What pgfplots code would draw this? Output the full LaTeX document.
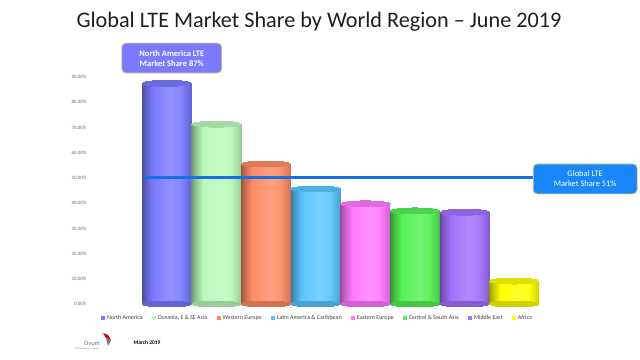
\documentclass[border=0pt]{standalone}
\usepackage{fontspec}
\setmainfont{Carlito}
\usepackage{pgfplots}
\pgfplotsset{compat=1.18}
\definecolor{cNA}{RGB}{122,122,255}
\definecolor{cOC}{RGB}{185,248,185}
\definecolor{cWE}{RGB}{255,140,100}
\definecolor{cLA}{RGB}{90,198,255}
\definecolor{cEE}{RGB}{255,120,255}
\definecolor{cCS}{RGB}{85,240,85}
\definecolor{cME}{RGB}{162,112,252}
\definecolor{cAF}{RGB}{255,255,0}
\definecolor{lineblue}{RGB}{22,110,235}
\definecolor{boxblue}{RGB}{25,135,250}
\definecolor{boxedge}{RGB}{215,215,120}
\newcommand{\mkshade}[1]{%
  \pgfdeclarehorizontalshading{cyl#1}{100bp}{%
    color(0bp)=(#1!62!black); color(25bp)=(#1!62!black);
    color(29bp)=(#1!78!black); color(36bp)=(#1);
    color(54bp)=(#1!82!white); color(64bp)=(#1!92!white);
    color(72bp)=(#1!88!black); color(75bp)=(#1!80!black);
    color(100bp)=(#1!80!black)}}
\mkshade{cNA}\mkshade{cOC}\mkshade{cWE}\mkshade{cLA}
\mkshade{cEE}\mkshade{cCS}\mkshade{cME}\mkshade{cAF}
\pgfplotsset{
  cyl/.style={ybar, bar width=1, bar shift=0pt, draw=none, fill=#1,
    shading=cyl#1,
    legend image code/.code={\pgfsetfillcolor{#1}\pgfpathrectangle{\pgfpoint{0bp}{-2bp}}{\pgfpoint{4bp}{4bp}}\pgfusepath{fill}}},
}
\newcommand{\cylbar}[4]{%
  \addplot[forget plot, only marks, mark=*, mark size=24.8bp,
    mark options={yscale=0.12, fill=#3!82!black, draw=#3!82!black, line width=0pt}] coordinates {(#1,0)};
  \addplot[cyl=#3] coordinates {(#1,#2)};
  \addlegendentry{#4}
  \addplot[forget plot, only marks, mark=*, mark size=24.8bp,
    mark options={yscale=0.12, fill=#3!88!black, draw=#3!88!black, line width=0pt}] coordinates {(#1,#2)};
}
\begin{document}
\begin{tikzpicture}[x=1bp,y=1bp]
\path[use as bounding box] (0bp,0bp) rectangle (640bp,360bp);
\node[font=\fontsize{22.3}{26}\selectfont, text=black!88] at (319bp,338bp) {Global LTE Market Share by World Region – June 2019};
\begin{axis}[at={(142bp,56bp)}, anchor=south west, scale only axis,
  width=397bp, height=227bp, xmin=-0.5, xmax=7.5, ymin=0, ymax=90,
  clip=false, axis line style={draw=none}, major tick length=0pt,
  xtick=\empty, ytick={0,10,...,90},
  /pgf/number format/assume math mode=true,
  yticklabel={\pgfmathprintnumber[fixed,fixed zerofill,precision=2]{\tick}\%},
  yticklabel style={font=\fontsize{5}{6}\selectfont, text=black!60, xshift=-52bp},
  legend columns=8,
  legend style={at={(-0.111,-0.0617)}, anchor=west, draw=none, fill=none,
    font=\fontsize{6}{7}\selectfont, text=black!75,
    /tikz/every even column/.append style={column sep=7.3bp}},
]
\cylbar{0}{87.5}{cNA}{North America}
\cylbar{1}{71.3}{cOC}{Oceania, E \& SE Asia}
\cylbar{2}{55.5}{cWE}{Western Europe}
\cylbar{3}{45.6}{cLA}{Latin America \& Caribbean}
\cylbar{4}{39.7}{cEE}{Eastern Europe}
\cylbar{5}{36.9}{cCS}{Central \& South Asia}
\cylbar{6}{36.4}{cME}{Middle East}
\cylbar{7}{9.1}{cAF}{Africa}
\addplot[forget plot, lineblue, line width=3bp] coordinates {(-0.44,50) (7.42,50)};
\node[minimum width=100bp, minimum height=30bp, rounded corners=4bp, fill=cNA,
  draw=boxedge, line width=0.8bp, text=white, align=center,
  font=\bfseries\fontsize{8.5}{10}\selectfont] at (axis cs:0.1,97.5) {North America LTE\\Market Share 87\%};
\node[minimum width=104bp, minimum height=30bp, rounded corners=4bp, fill=boxblue,
  draw=boxedge, line width=0.8bp, text=white, align=center,
  font=\fontsize{8.5}{10}\selectfont] at (axis cs:8.43,49.6) {Global LTE\\Market Share 51\%};
\end{axis}
\node[font=\fontsize{6.5}{7}\selectfont, text=black!55] at (92bp,17bp) {Ovum};
\node[font=\fontsize{2.2}{3}\selectfont, text=black!55] at (87bp,11bp) {TMT Intelligence | Informa};
\fill[red!85!black] (103bp,27bp) -- (108bp,25bp) -- (111bp,20bp) -- (106bp,22bp) -- cycle;
\fill[black!55] (106bp,22bp) -- (111bp,20bp) -- (108bp,14bp) -- cycle;
\node[font=\bfseries\fontsize{5.5}{6}\selectfont] at (147bp,17bp) {March 2019};
\end{tikzpicture}
\end{document}
